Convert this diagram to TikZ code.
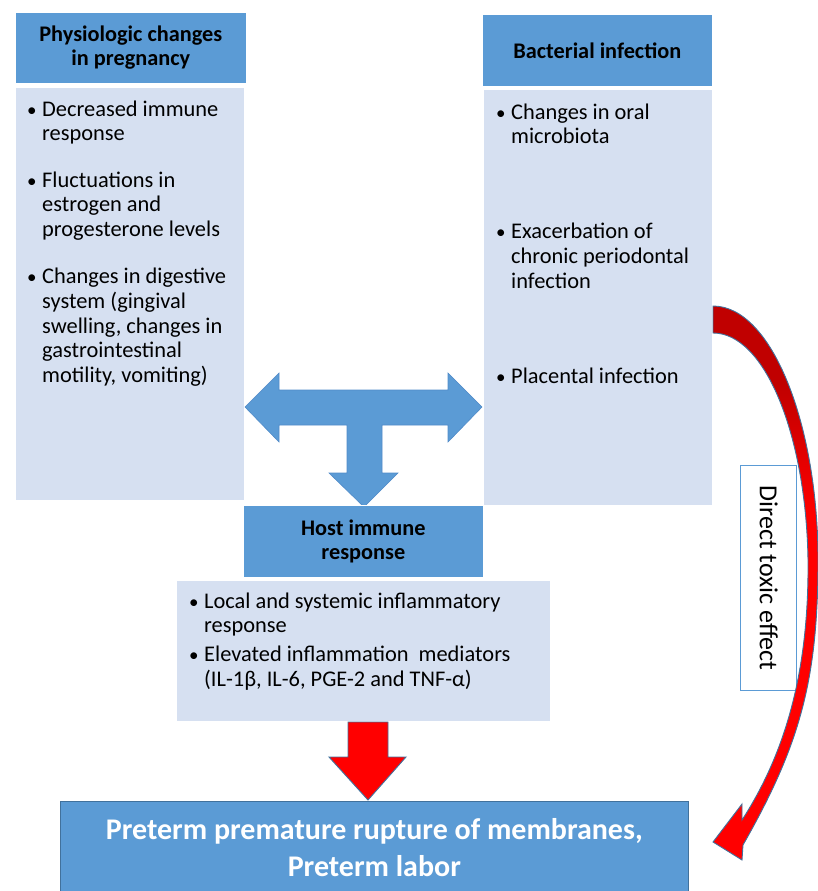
\documentclass[tikz,border=0pt]{standalone}
\usepackage{fontspec}
\setmainfont{Carlito}
\definecolor{hdrblue}{RGB}{91,155,213}
\definecolor{bodyblue}{RGB}{214,224,241}
\definecolor{edgeblue}{RGB}{65,113,156}
\definecolor{tedge}{RGB}{80,138,200}
\definecolor{darkred}{RGB}{192,0,0}
\pgfdeclareverticalshading{redcurve}{100bp}{color(0bp)=(red); color(56bp)=(red); color(68bp)=(darkred); color(100bp)=(darkred)}
\begin{document}
\begin{tikzpicture}[x=1pt,y=-1pt,
  hdr/.style={fill=hdrblue, draw=white, line width=0.6pt, inner sep=0pt, anchor=north west,
    font=\fontsize{22.3}{24}\selectfont\bfseries, align=center, text=black},
  bodybox/.style={fill=bodyblue, draw=white, line width=0.6pt, inner sep=0pt, anchor=north west},
  bul/.style={anchor=base west, inner sep=0pt, font=\fontsize{22.4}{24.8}\selectfont},
  blockarrow/.style={fill=hdrblue, draw=tedge, line width=0.6pt, line join=miter},
  redarrow/.style={fill=red, draw=edgeblue, line width=0.9pt, line join=miter}]
\useasboundingbox (0,0) rectangle (818,891);
\newcommand{\bu}{\makebox[15pt][l]{\fontsize{19}{20}\selectfont\textbullet}}

% left column
\node[hdr, minimum width=231pt, minimum height=71pt] (hdrL) at (15,12) {Physiologic changes\\in pregnancy};
\node[bodybox, minimum width=229pt, minimum height=413pt] (bodyL) at (15,87) {};
\node[bul] (txtL) at (27,116) {\begin{tabular}[t]{@{}l@{}l@{}}
\bu & Decreased immune\\
 & response\\[21.5pt]
\bu & Fluctuations in\\
 & estrogen and\\
 & progesterone levels\\[22pt]
\bu & Changes in digestive\\
 & system (gingival\\
 & swelling, changes in\\
 & gastrointestinal\\
 & motility, vomiting)
\end{tabular}};

% right column
\node[hdr, minimum width=230pt, minimum height=72pt] (hdrR) at (482,14) {Bacterial infection};
\node[bodybox, minimum width=229pt, minimum height=416pt] (bodyR) at (483,89) {};
\node[bul] (txtR) at (496,119) {\begin{tabular}[t]{@{}l@{}l@{}}
\bu & Changes in oral\\
 & microbiota\\[70pt]
\bu & Exacerbation of\\
 & chronic periodontal\\
 & infection\\[70pt]
\bu & Placental infection
\end{tabular}};

% T-shaped block arrow
\draw[blockarrow] (245,407) -- (279,373) -- (279,390) -- (448,390) -- (448,373) -- (482,407)
  -- (448,442) -- (448,425) -- (382,425) -- (382,473) -- (398,473) -- (364,507) -- (329,473)
  -- (347,473) -- (347,425) -- (279,425) -- (279,442) -- cycle;

% host immune response
\node[hdr, minimum width=240pt, minimum height=72pt] (hdrH) at (243,505) {Host immune\\response};
\node[bodybox, minimum width=374pt, minimum height=141pt] (bodyH) at (176,580) {};
\node[bul] (txtH) at (189,608) {\begin{tabular}[t]{@{}l@{}l@{}}
\bu & Local and systemic inflammatory\\
 & response\\[4pt]
\bu & Elevated inflammation\ \ mediators\\
 & (IL-1β, IL-6, PGE-2 and TNF-α)
\end{tabular}};

% red down arrow
\draw[redarrow] (348,722) -- (388,722) -- (388,757) -- (406,757) -- (368,800) -- (329,757) -- (348,757) -- cycle;

% bottom outcome box
\node[fill=hdrblue, draw=edgeblue, line width=0.8pt, inner sep=0pt, anchor=north west,
  minimum width=628pt, minimum height=92pt, align=center, text=white,
  font=\fontsize{30}{37}\selectfont\bfseries] (outcome) at (60,801)
  {Preterm premature rupture of membranes,\\Preterm labor};

% direct toxic effect label
\node[draw=hdrblue, fill=white, line width=1.4pt, anchor=north west, inner sep=0pt,
  minimum width=56pt, minimum height=225pt] (toxbox) at (740,465) {};
\node[rotate=-90, font=\fontsize{26}{28}\selectfont, inner sep=0pt] (toxtxt) at (toxbox.center) {Direct toxic effect};

% curved red arrow
\shade[shading=redcurve, draw=edgeblue, line width=0.9pt, line join=miter]
  (713,306) .. controls (772,306) and (818,425) .. (818,560)
  .. controls (818,680) and (800,745) .. (743,845)
  -- (742,860) -- (713,842) -- (742,804) -- (742,820)
  .. controls (786,752) and (809,670) .. (808,560)
  .. controls (806,435) and (765,333) .. (713,333) -- cycle;
\end{tikzpicture}
\end{document}
